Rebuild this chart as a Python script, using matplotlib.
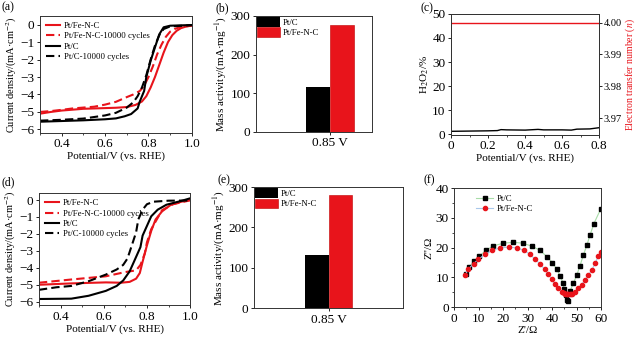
import matplotlib.pyplot as plt
import numpy as np

plt.rcParams['font.family'] = ['Liberation Serif', 'DejaVu Serif']
plt.rcParams['mathtext.fontset'] = 'stix'
plt.rcParams['font.size'] = 8
plt.rcParams['axes.linewidth'] = 0.7

RED = '#e8141b'

# (a) ORR curves, before/after 10000 cycles
a_fe_x = [0.30, 0.35, 0.40, 0.45, 0.50, 0.55, 0.60, 0.65, 0.70, 0.74, 0.77, 0.79, 0.81, 0.83, 0.85, 0.87, 0.89, 0.91, 0.93, 0.95, 0.97, 1.00]
a_fe_y = [-5.10, -5.00, -4.92, -4.87, -4.82, -4.80, -4.78, -4.76, -4.72, -4.60, -4.40, -4.10, -3.60, -3.00, -2.30, -1.60, -1.00, -0.60, -0.35, -0.20, -0.12, -0.05]
a_fec_x = [0.30, 0.35, 0.40, 0.45, 0.50, 0.55, 0.60, 0.65, 0.70, 0.73, 0.76, 0.78, 0.80, 0.82, 0.84, 0.86, 0.88, 0.90, 0.92, 0.95, 1.00]
a_fec_y = [-5.00, -4.95, -4.88, -4.80, -4.75, -4.70, -4.58, -4.42, -4.15, -4.00, -3.80, -3.50, -3.00, -2.40, -1.70, -1.15, -0.70, -0.40, -0.25, -0.12, -0.05]
a_pt_x = [0.30, 0.40, 0.50, 0.60, 0.65, 0.69, 0.72, 0.75, 0.76, 0.78, 0.79, 0.81, 0.83, 0.85, 0.87, 0.90, 0.95, 1.00]
a_pt_y = [-5.56, -5.52, -5.48, -5.42, -5.37, -5.25, -5.12, -4.80, -4.40, -3.80, -3.00, -2.07, -1.30, -0.55, -0.15, -0.06, -0.04, -0.02]
a_ptc_x = [0.30, 0.40, 0.50, 0.60, 0.65, 0.70, 0.73, 0.75, 0.77, 0.79, 0.81, 0.83, 0.85, 0.87, 0.90, 1.00]
a_ptc_y = [-5.50, -5.45, -5.38, -5.20, -5.05, -4.75, -4.45, -4.10, -3.60, -2.90, -2.00, -1.20, -0.60, -0.25, -0.10, -0.03]

# (b) and (e) mass activity at 0.85 V
ma_labels = ['Pt/C', 'Pt/Fe-N-C']
b_values = [117, 277]
e_values = [132, 280]

# (c) H2O2 yield and electron transfer number
c_x = [0.00, 0.10, 0.20, 0.25, 0.27, 0.30, 0.40, 0.47, 0.50, 0.60, 0.65, 0.68, 0.75, 0.80]
c_h2o2 = [1.2, 1.3, 1.4, 1.5, 1.9, 1.8, 1.7, 2.0, 1.8, 1.8, 1.7, 2.1, 2.2, 2.7]
c_n = [3.9999, 3.9999, 3.9999, 3.9999, 3.9999, 3.9999, 3.9999, 3.9999, 3.9999, 3.9999, 3.9999, 3.9999, 3.9999, 3.9999]

# (d) ORR curves, second set
d_fe_x = [0.30, 0.45, 0.61, 0.68, 0.72, 0.75, 0.767, 0.78, 0.80, 0.82, 0.84, 0.87, 0.91, 0.96, 0.99, 1.00]
d_fe_y = [-5.00, -4.92, -4.86, -4.88, -4.83, -4.64, -4.31, -3.64, -2.68, -1.82, -1.15, -0.67, -0.29, -0.10, -0.02, 0.00]
d_fec_x = [0.30, 0.45, 0.61, 0.70, 0.75, 0.77, 0.79, 0.80, 0.82, 0.85, 0.87, 0.92, 1.00]
d_fec_y = [-4.88, -4.69, -4.50, -4.25, -4.15, -3.83, -3.16, -2.50, -1.72, -1.05, -0.60, -0.25, -0.02]
d_pt_x = [0.30, 0.45, 0.53, 0.61, 0.66, 0.69, 0.72, 0.74, 0.77, 0.78, 0.80, 0.82, 0.85, 0.89, 0.96, 1.00]
d_pt_y = [-5.84, -5.82, -5.65, -5.36, -5.07, -4.75, -4.21, -3.64, -2.78, -2.10, -1.53, -0.96, -0.57, -0.28, -0.05, 0.10]
d_ptc_x = [0.30, 0.38, 0.45, 0.53, 0.61, 0.66, 0.69, 0.71, 0.73, 0.75, 0.76, 0.78, 0.80, 0.83, 0.90, 1.00]
d_ptc_y = [-5.30, -5.15, -5.07, -4.79, -4.40, -4.10, -3.83, -3.45, -2.68, -1.90, -1.15, -0.57, -0.25, -0.10, -0.04, -0.03]

# (f) Nyquist plots
f_pt_x = [4.8, 6.1, 8.2, 10.3, 13.1, 16.0, 20.1, 24.2, 28.0, 31.7, 35.1, 37.8, 40.1, 41.9, 43.3, 44.4, 45.0, 45.6, 46.0, 46.4, 47.3, 48.7, 50.1, 51.4, 52.8, 54.2, 55.5, 57.1, 59.9]
f_pt_y = [11.3, 13.5, 15.5, 17.2, 19.2, 20.6, 21.5, 21.8, 21.5, 20.5, 19.1, 17.0, 15.0, 12.8, 10.5, 8.2, 6.0, 4.0, 2.4, 2.2, 5.4, 8.0, 10.8, 13.9, 17.5, 20.8, 24.2, 28.1, 33.0]
f_fe_x = [4.5, 5.8, 7.9, 9.9, 12.7, 15.4, 18.8, 22.2, 25.6, 28.6, 31.0, 33.1, 35.1, 36.9, 38.5, 39.9, 41.2, 42.6, 44.0, 44.7, 45.3, 45.9, 46.3, 46.7, 47.2, 47.6, 48.0, 49.4, 50.7, 52.1, 53.5, 54.8, 56.2, 57.6, 58.9, 60.0]
f_fe_y = [10.8, 12.8, 14.6, 16.1, 17.8, 19.1, 19.9, 20.2, 19.9, 19.1, 17.7, 16.1, 14.5, 12.8, 11.0, 9.3, 7.7, 6.3, 5.2, 4.8, 4.5, 4.35, 4.3, 4.3, 4.35, 4.4, 4.5, 5.2, 6.3, 7.6, 9.1, 10.8, 12.4, 14.7, 17.2, 18.6]


def lsv_panel(ax, curves, ylim):
    for x, y, color, ls, label in curves:
        ax.plot(x, y, color=color, ls=ls, lw=1.5, label=label, dashes=(4, 2) if ls == '--' else (None, None))
    ax.set_xlim(0.3, 1.0)
    ax.set_ylim(*ylim)
    ax.set_xticks([0.4, 0.6, 0.8, 1.0])
    ax.set_xticklabels(['0.4', '0.6', '0.8', '1.0'])
    ax.set_xticks(np.arange(0.3, 1.01, 0.1), minor=True)
    ax.set_yticks([0, -1, -2, -3, -4, -5, -6])
    ax.set_xlabel('Potential/V (vs. RHE)', labelpad=1)
    ax.set_ylabel('Current density/(mA·cm$^{-2}$)', labelpad=1, fontsize=7.5)
    ax.legend(loc='upper left', frameon=False, fontsize=6.3, handlelength=1.6,
              handletextpad=0.4, labelspacing=0.25, borderaxespad=0.3)


def bar_panel(ax, values, xlim):
    ax.bar(-0.1, values[0], width=0.2, color='black', label=ma_labels[0])
    ax.bar(0.1, values[1], width=0.2, color=RED, edgecolor='#c00000', lw=0.4, label=ma_labels[1])
    ax.set_xlim(*xlim)
    ax.set_ylim(0, 300)
    ax.set_xticks([0.0])
    ax.set_xticklabels(['0.85 V'])
    ax.set_yticks([0, 100, 200, 300])
    ax.set_ylabel('Mass activity/(mA·mg$^{-1}$)', labelpad=1)
    ax.legend(loc='upper left', frameon=False, fontsize=6.3, handlelength=2.6, handleheight=1.3,
              handletextpad=0.3, labelspacing=0.05, borderaxespad=0.05, borderpad=0.1)


fig = plt.figure(figsize=(6.38, 3.39), dpi=100)

ax_a = fig.add_axes([0.0627, 0.608, 0.238, 0.345])
lsv_panel(ax_a, [(a_fe_x, a_fe_y, RED, '-', 'Pt/Fe-N-C'),
                 (a_fec_x, a_fec_y, RED, '--', 'Pt/Fe-N-C-10000 cycles'),
                 (a_pt_x, a_pt_y, 'black', '-', 'Pt/C'),
                 (a_ptc_x, a_ptc_y, 'black', '--', 'Pt/C-10000 cycles')], (-6.2, 0.5))

ax_b = fig.add_axes([0.401, 0.611, 0.182, 0.342])
bar_panel(ax_b, b_values, (-0.62, 0.35))

ax_c = fig.add_axes([0.707, 0.602, 0.232, 0.357])
ax_c.plot(c_x, c_h2o2, color='black', lw=1.0)
ax_c.set_xlim(0, 0.8)
ax_c.set_ylim(-0.3, 50)
ax_c.set_xticks([0, 0.2, 0.4, 0.6, 0.8])
ax_c.set_xticklabels(['0', '0.2', '0.4', '0.6', '0.8'])
ax_c.set_xticks(np.arange(0, 0.81, 0.1), minor=True)
ax_c.set_yticks([0, 10, 20, 30, 40, 50])
ax_c.set_xlabel('Potential/V (vs. RHE)', labelpad=1)
ax_c.set_ylabel('H$_2$O$_2$/%', labelpad=1)
ax_c2 = ax_c.twinx()
ax_c2.plot(c_x, c_n, color=RED, lw=1.0)
ax_c2.set_ylim(3.9648, 4.0027)
ax_c2.set_yticks([3.97, 3.98, 3.99, 4.00])
ax_c2.set_yticklabels(['3.97', '3.98', '3.99', '4.00'])
ax_c2.set_ylabel('Electron transfer number ($n$)', color=RED, fontsize=7)

ax_d = fig.add_axes([0.061, 0.100, 0.237, 0.330])
lsv_panel(ax_d, [(d_fe_x, d_fe_y, RED, '-', 'Pt/Fe-N-C'),
                 (d_fec_x, d_fec_y, RED, '--', 'Pt/Fe-N-C-10000 cycles'),
                 (d_pt_x, d_pt_y, 'black', '-', 'Pt/C'),
                 (d_ptc_x, d_ptc_y, 'black', '--', 'Pt/C-10000 cycles')], (-6.2, 0.4))

ax_e = fig.add_axes([0.398, 0.091, 0.234, 0.357])
bar_panel(ax_e, e_values, (-0.625, 0.625))

ax_f = fig.add_axes([0.712, 0.094, 0.230, 0.351])
ax_f.plot(f_pt_x, f_pt_y, color='#a8dca8', lw=0.8, marker='s', ms=3, mfc='black', mec='black', label='Pt/C')
ax_f.plot(f_fe_x, f_fe_y, color='#a9c8ea', lw=0.8, marker='o', ms=3, mfc=RED, mec=RED, label='Pt/Fe-N-C')
ax_f.set_xlim(0, 60)
ax_f.set_ylim(0, 40)
ax_f.set_xticks([0, 10, 20, 30, 40, 50, 60])
ax_f.set_xticks(np.arange(0, 61, 5), minor=True)
ax_f.set_yticks([0, 10, 20, 30, 40])
ax_f.set_yticks(np.arange(0, 41, 5), minor=True)
ax_f.set_xlabel("Z'/Ω", labelpad=1)
ax_f.set_ylabel("Z''/Ω", labelpad=1)
ax_f.legend(loc='upper left', frameon=False, fontsize=6.3, handlelength=2.0,
            handletextpad=0.4, labelspacing=0.2, borderaxespad=0.4, bbox_to_anchor=(0.1, 1.0))

for ax in [ax_a, ax_b, ax_c, ax_c2, ax_d, ax_e, ax_f]:
    ax.tick_params(labelsize=9.5, length=2.5, width=0.6, pad=1.5)
    ax.tick_params(which='minor', length=1.5, width=0.5)
    for s in ax.spines.values():
        s.set_color('#333333')
ax_c2.tick_params(labelsize=7.5, pad=1)
ax_c2.yaxis.set_label_coords(1.165, 0.5)

for label, (x, y) in {'(a)': (2, 7), '(b)': (216, 8), '(c)': (421, 8),
                      '(d)': (2, 182), '(e)': (217, 180), '(f)': (424, 180)}.items():
    fig.text(x / 638, 1 - y / 339, label, fontsize=8.5, ha='left', va='center')

fig.savefig('out.png', dpi=100)
